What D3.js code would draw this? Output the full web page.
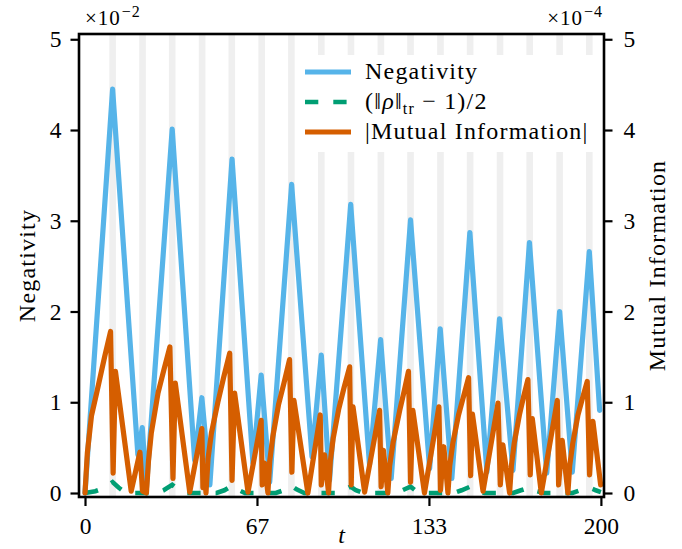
<!DOCTYPE html>
<html>
<head>
<meta charset="utf-8">
<script src="https://cdn.jsdelivr.net/npm/d3@7.9.0/dist/d3.min.js"></script>
<style>
  html, body { margin: 0; padding: 0; background: #fff; }
  svg { display: block; font-family: "Liberation Serif", "DejaVu Serif", serif; }
</style>
</head>
<body>
<svg id="chart" width="682" height="549"></svg>
<script>
// ---------- data ----------
// light grey vertical markers
const bandT = [10.7, 22.3, 33.8, 45.4, 56.9, 68.5, 80.0, 91.6, 103.1, 114.7, 126.2, 137.8, 149.3, 160.9, 172.4, 184.0, 195.5];

// Negativity (x 1e-2)
const negT = [0, 10.7, 20.5, 22.2, 23.8, 33.8, 42.5, 45.3, 48.4, 57.0, 65.1, 68.3, 71.6, 80.1, 88.0, 91.6, 94.8,
  103.0, 110.3, 114.6, 118.7, 126.2, 133.6, 137.7, 142.2, 149.2, 155.8, 160.7, 165.9, 172.3, 179.0, 184.0, 188.9, 195.5, 199.5];
const negV = [0, 4.45, 0.42, 0.72, 0.05, 4.01, 0.36, 1.05, 0.09, 3.68, 0.33, 1.30, 0.12, 3.40, 0.40, 1.52, 0.14,
  3.18, 0.31, 1.69, 0.16, 3.01, 0.27, 1.81, 0.16, 2.87, 0.23, 1.92, 0.25, 2.76, 0.22, 2.00, 0.23, 2.66, 0.91];

// (||rho||_tr - 1)/2 (x 1e-2)
const trT = [0, 4, 7, 10.7, 13, 16, 28, 30.5, 33.8, 36, 39, 51, 54, 57, 59, 62, 74, 77, 80, 82, 85,
  97, 100, 103, 105, 108, 120, 123, 126.2, 128, 131, 143, 146, 149.3, 151, 155, 166, 169, 172.4, 174, 178,
  189, 192, 195.5, 198, 200];
const trV = [0, 0.02, 0.05, 0.12, 0.06, 0, 0, 0.03, 0.09, 0.04, 0, 0, 0.03, 0.08, 0.04, 0, 0, 0.03, 0.08, 0.04, 0,
  0, 0.03, 0.07, 0.03, 0, 0, 0.03, 0.07, 0.03, 0, 0, 0.03, 0.07, 0.03, 0, 0, 0.03, 0.06, 0.03, 0,
  0, 0.03, 0.06, 0.03, 0.01];

// |Mutual Information| (x 1e-4)
const miT = [0, 0.9, 2.5, 4.5, 7.6, 9.9, 10.9, 11.8, 17.9, 21.3, 22.3,
  23.8, 24.6, 25.7, 28.3, 30.6, 32.9, 34.1, 35.0, 40.6, 45.3, 45.7, 46.3, 46.9,
  47.7, 49.0, 51.5, 53.8, 56.1, 57.0, 58.0, 63.2, 68.3, 68.7, 69.6, 70.9,
  71.6, 72.8, 75.0, 77.2, 79.3, 80.2, 81.0, 86.4, 91.2, 91.6, 92.9, 94.4,
  95.1, 96.2, 98.4, 100.5, 102.6, 103.2, 103.9, 108.4, 114.2, 114.8, 115.7, 117.4,
  118.1, 119.4, 122.0, 123.8, 125.4, 126.2, 127.1, 131.6, 137.2, 137.8, 139.1, 140.7,
  141.4, 142.6, 144.8, 146.8, 148.7, 149.5, 150.2, 154.3, 160.1, 161.0, 162.0, 164.6,
  165.3, 166.4, 168.4, 170.0, 171.7, 172.6, 173.4, 176.9, 183.1, 183.6, 185.0, 187.2,
  187.9, 189.1, 191.1, 193.0, 194.7, 195.6, 196.9, 199.9];
const miV = [0, 0.44, 0.85, 1.10, 1.50, 1.78, 0.22, 1.34, 0.02, 0.45, 0.02,
  0, 0.35, 0.66, 1.10, 1.36, 1.61, 0.16, 1.21, 0.01, 0.71, 0.06, 0.25, 0,
  0.38, 0.66, 1.00, 1.28, 1.54, 0.14, 1.10, 0.01, 0.80, 0.09, 0.33, 0,
  0.35, 0.62, 0.97, 1.22, 1.47, 0.23, 1.02, 0, 0.86, 0.09, 0.42, 0,
  0.35, 0.60, 0.93, 1.17, 1.39, 0.09, 0.95, 0.01, 0.91, 0.07, 0.47, 0,
  0.30, 0.55, 0.91, 1.13, 1.34, 0.12, 0.91, 0, 0.95, 0.03, 0.51, 0,
  0.30, 0.55, 0.86, 1.07, 1.27, 0.19, 0.87, 0.02, 0.99, 0.09, 0.53, 0,
  0.30, 0.55, 0.86, 1.06, 1.25, 0.20, 0.82, 0, 1.02, 0.09, 0.58, 0,
  0.30, 0.55, 0.86, 1.06, 1.23, 0.20, 0.79, 0.09];

const xTicks = [0, 200 / 3, 400 / 3, 200];
const xTickLabels = ['0', '67', '133', '200'];
const yTicks = [0, 1, 2, 3, 4, 5];

const legendLabels = ['Negativity', 'tr', '|Mutual Information|'];

// ---------- layout ----------
const colors = { neg: '#56B4E9', tr: '#009E73', mi: '#D55E00', band: '#efefef' };
const box = { left: 79, right: 604, top: 34, bottom: 497 };
const lw = 5.2;

const svg = d3.select('#chart');

const x = d3.scaleLinear().domain([-2.33, 201.2]).range([box.left, box.right]);
const yL = d3.scaleLinear().domain([-0.044, 5.058]).range([box.bottom, box.top]);
const yR = d3.scaleLinear().domain([-0.044, 5.058]).range([box.bottom, box.top]);

svg.append('defs').append('clipPath').attr('id', 'clip')
  .append('rect')
  .attr('x', box.left).attr('y', box.top)
  .attr('width', box.right - box.left).attr('height', box.bottom - box.top);

// grey markers
svg.append('g').selectAll('rect')
  .data(bandT)
  .join('rect')
  .attr('x', (d) => x(d) - 3.3)
  .attr('y', box.top)
  .attr('width', 6.6)
  .attr('height', box.bottom - box.top)
  .attr('fill', colors.band);

// series
const zip = (ts, vs) => ts.map((t, i) => [t, vs[i]]);
const lineL = d3.line().x((d) => x(d[0])).y((d) => yL(d[1]));
const lineR = d3.line().x((d) => x(d[0])).y((d) => yR(d[1]));

const plotG = svg.append('g').attr('clip-path', 'url(#clip)');

plotG.append('path')
  .attr('d', lineL(zip(negT, negV)))
  .attr('fill', 'none').attr('stroke', colors.neg)
  .attr('stroke-width', lw).attr('stroke-linejoin', 'round').attr('stroke-linecap', 'round');

plotG.append('path')
  .attr('d', lineL(zip(trT, trV)))
  .attr('fill', 'none').attr('stroke', colors.tr)
  .attr('stroke-width', 4.6).attr('stroke-dasharray', '13.3,15');

plotG.append('path')
  .attr('d', lineR(zip(miT, miV)))
  .attr('fill', 'none').attr('stroke', colors.mi)
  .attr('stroke-width', lw).attr('stroke-linejoin', 'round').attr('stroke-linecap', 'round');

// ---------- axes ----------
function styleAxis(g) {
  g.select('.domain').remove();
  g.selectAll('.tick line').attr('stroke', '#000').attr('stroke-width', 2.2);
  g.selectAll('.tick text').attr('fill', '#000').style('font-size', '23.5px')
    .style('font-family', '"Liberation Serif", serif');
}

svg.append('g')
  .attr('transform', `translate(${box.left},0)`)
  .call(d3.axisLeft(yL).tickValues(yTicks).tickSize(8.5).tickPadding(9).tickFormat(d3.format('d')))
  .call(styleAxis);

svg.append('g')
  .attr('transform', `translate(${box.right},0)`)
  .call(d3.axisRight(yR).tickValues(yTicks).tickSize(8.5).tickPadding(11).tickFormat(d3.format('d')))
  .call(styleAxis);

svg.append('g')
  .attr('transform', `translate(0,${box.bottom})`)
  .call(d3.axisBottom(x).tickValues(xTicks).tickSize(9).tickPadding(11).tickFormat((d, i) => xTickLabels[i]))
  .call(styleAxis);

// spines
svg.append('rect')
  .attr('x', box.left).attr('y', box.top)
  .attr('width', box.right - box.left).attr('height', box.bottom - box.top)
  .attr('fill', 'none').attr('stroke', '#000').attr('stroke-width', 2.6);

// offset texts
function offsetText(xPos, exp, anchor) {
  const t = svg.append('text').attr('x', xPos).attr('y', 25)
    .attr('text-anchor', anchor).style('font-size', '21px').style('letter-spacing', '1px');
  t.append('tspan').text('\u00d710');
  t.append('tspan').attr('dy', -8).attr('dx', 1).style('font-size', '16px').text('\u2212' + exp);
}
offsetText(85, 2, 'start');
offsetText(603, 4, 'end');

// axis labels
const labelStyle = (s) => s.style('font-size', '24px').style('letter-spacing', '1.2px');

svg.append('text')
  .attr('transform', `translate(35,${(box.top + box.bottom) / 2}) rotate(-90)`)
  .attr('text-anchor', 'middle')
  .call(labelStyle)
  .text('Negativity');

svg.append('text')
  .attr('transform', `translate(665,${(box.top + box.bottom) / 2}) rotate(-90)`)
  .attr('text-anchor', 'middle')
  .call(labelStyle)
  .text('Mutual Information');

svg.append('text')
  .attr('x', (box.left + box.right) / 2).attr('y', 543)
  .attr('text-anchor', 'middle').style('font-size', '24px').style('font-style', 'italic')
  .text('t');

// ---------- legend ----------
const lg = svg.append('g');
lg.append('rect').attr('x', 296).attr('y', 55).attr('width', 303).attr('height', 97).attr('fill', '#fff');

const entries = [
  { color: colors.neg, dash: null, w: lw },
  { color: colors.tr, dash: '13.3,15', w: 4.6 },
  { color: colors.mi, dash: null, w: lw }
];
entries.forEach((e, i) => {
  const yy = 72 + i * 30;
  lg.append('line')
    .attr('x1', 305).attr('x2', 351).attr('y1', yy).attr('y2', yy)
    .attr('stroke', e.color).attr('stroke-width', e.w)
    .attr('stroke-dasharray', e.dash);
  const t = lg.append('text').attr('x', 365).attr('y', yy + 7).call(labelStyle);
  if (i === 1) {
    t.append('tspan').text('(\u2016');
    t.append('tspan').style('font-style', 'italic').text('\u03c1');
    t.append('tspan').text('\u2016');
    t.append('tspan').attr('dy', 5).style('font-size', '16px').text(legendLabels[1]);
    t.append('tspan').attr('dy', -5).text(' \u2212 1)/2');
  } else {
    t.text(legendLabels[i]);
  }
});
</script>
</body>
</html>
